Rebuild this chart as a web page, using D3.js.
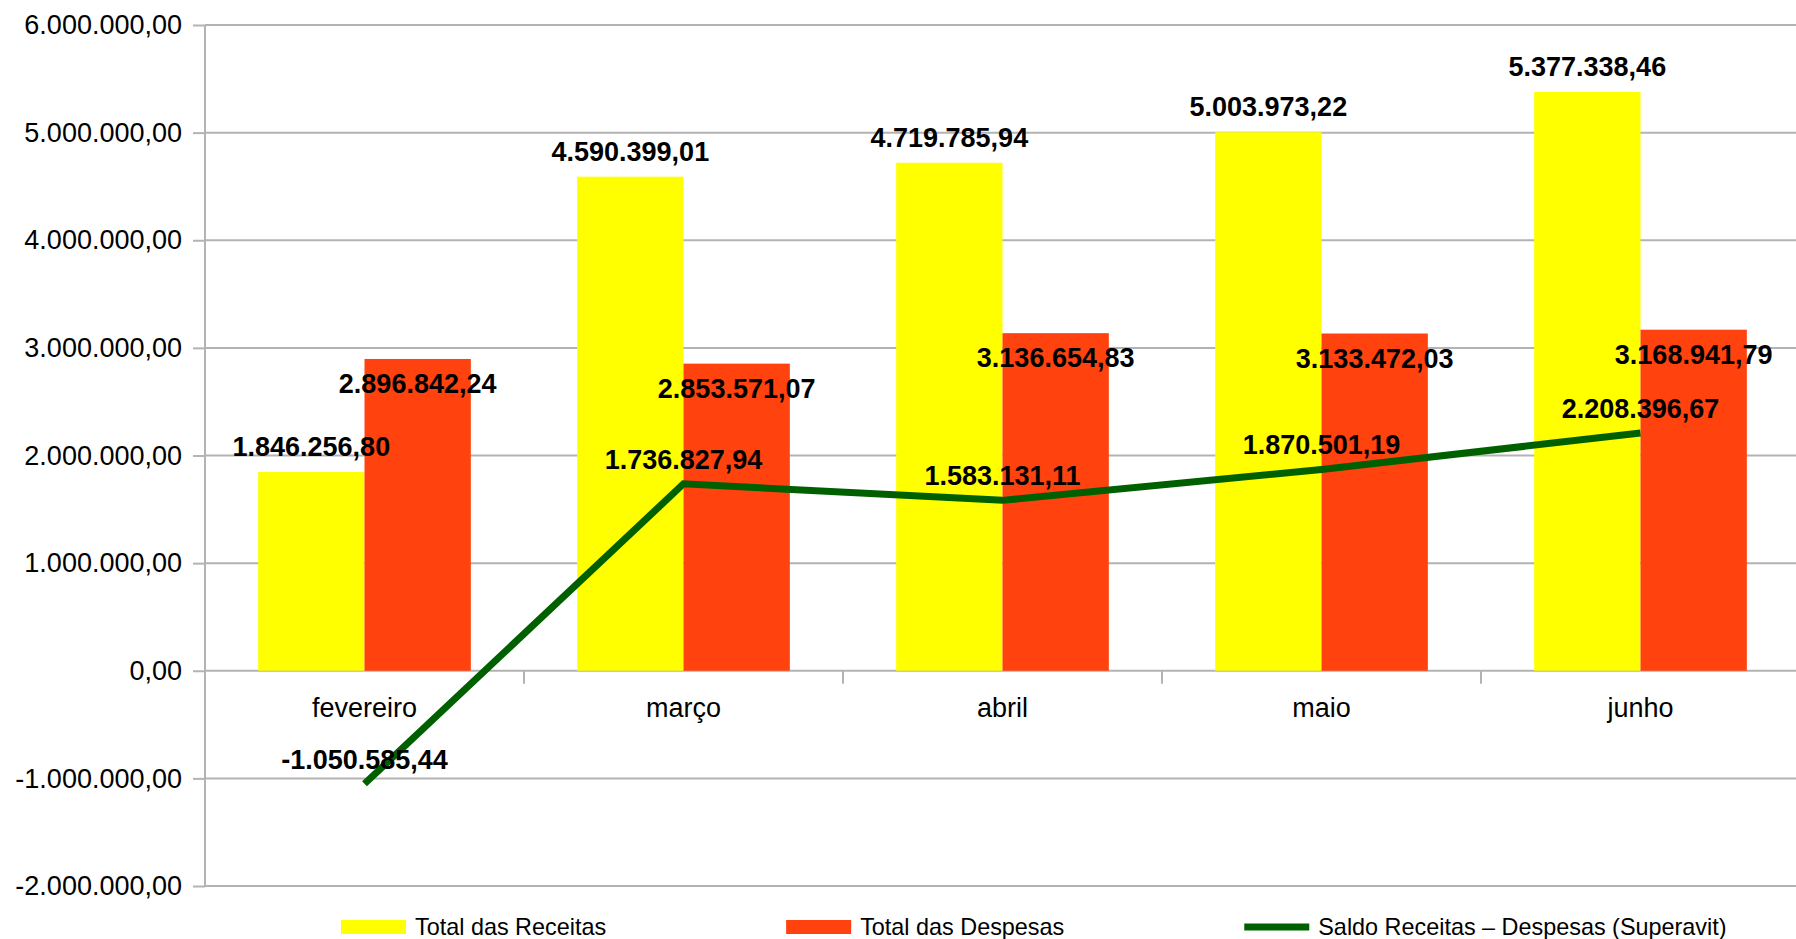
<!DOCTYPE html>
<html>
<head>
<meta charset="utf-8">
<script src="https://cdn.jsdelivr.net/npm/d3@7"></script>
<style>
  body { margin: 0; background: #fff; }
  text { font-family: "Liberation Sans", Arial, sans-serif; }
</style>
</head>
<body>
<div id="wrapper"></div>
<script>
// data
const months = ["fevereiro", "março", "abril", "maio", "junho"]
const receitas = [1846256.80, 4590399.01, 4719785.94, 5003973.22, 5377338.46]
const despesas = [2896842.24, 2853571.07, 3136654.83, 3133472.03, 3168941.79]
const saldo = [-1050585.44, 1736827.94, 1583131.11, 1870501.19, 2208396.67]
const yTicks = [-2000000, -1000000, 0, 1000000, 2000000, 3000000, 4000000, 5000000, 6000000]
const seriesNames = ["Total das Receitas", "Total das Despesas", "Saldo Receitas – Despesas (Superavit)"]

const colors = { rec: "#ffff00", desp: "#ff420e", saldo: "#006000" }

const ptBR = d3.formatLocale({
  decimal: ",", thousands: ".", grouping: [3], currency: ["R$", ""], minus: "-"
})
const fmt = ptBR.format(",.2f")

const rows = months.map((m, i) => ({
  month: m, rec: receitas[i], desp: despesas[i], saldo: saldo[i]
}))

// dimensions
const width = 1796
const height = 939
const plot = { left: 205, right: 1800, top: 25, bottom: 886 }

const svg = d3.select("#wrapper").append("svg")
    .attr("width", width)
    .attr("height", height)

// scales
const y = d3.scaleLinear()
  .domain([-2000000, 6000000])
  .range([plot.bottom, plot.top])

const x0 = d3.scaleBand()
  .domain(months)
  .range([plot.left, plot.right])

const x1 = d3.scaleBand()
  .domain(["rec", "desp"])
  .range([0, x0.bandwidth()])
  .paddingOuter(0.5)

// gridlines
svg.append("g")
  .selectAll("line")
  .data(yTicks)
  .join("line")
    .attr("x1", plot.left)
    .attr("x2", width)
    .attr("y1", d => y(d))
    .attr("y2", d => y(d))
    .attr("stroke", "#b3b3b3")
    .attr("stroke-width", 2)

// y axis
const yAxis = svg.append("g")
    .attr("transform", `translate(${plot.left},0)`)
    .call(d3.axisLeft(y).tickValues(yTicks).tickFormat(fmt).tickSize(12).tickPadding(11))
yAxis.select(".domain").attr("stroke", "#b3b3b3").attr("stroke-width", 2)
  .attr("d", `M0,${plot.top}V${plot.bottom}`)
yAxis.selectAll(".tick line").attr("stroke", "#b3b3b3").attr("stroke-width", 2)
yAxis.selectAll(".tick text")
    .attr("fill", "#000")
    .style("font-size", "27px")
    .style("font-family", "'Liberation Sans', Arial, sans-serif")

// category boundary ticks
svg.append("g")
  .selectAll("line")
  .data(months.slice(1))
  .join("line")
    .attr("x1", d => x0(d))
    .attr("x2", d => x0(d))
    .attr("y1", y(0))
    .attr("y2", y(0) + 13)
    .attr("stroke", "#b3b3b3")
    .attr("stroke-width", 2)

// bars
const groups = svg.append("g")
  .selectAll("g")
  .data(rows)
  .join("g")
    .attr("transform", d => `translate(${x0(d.month)},0)`)

groups.selectAll("rect")
  .data(d => ["rec", "desp"].map(k => ({ key: k, value: d[k] })))
  .join("rect")
    .attr("x", d => x1(d.key))
    .attr("width", x1.bandwidth())
    .attr("y", d => y(d.value))
    .attr("height", d => y(0) - y(d.value))
    .attr("fill", d => colors[d.key])

// x axis labels
const xAxis = svg.append("g")
    .attr("transform", `translate(0,${y(0)})`)
    .call(d3.axisBottom(x0).tickSize(0).tickPadding(27))
xAxis.select(".domain").remove()
xAxis.selectAll(".tick text")
    .attr("fill", "#000")
    .style("font-size", "27px")
    .style("font-family", "'Liberation Sans', Arial, sans-serif")

// saldo line
const cx = d => x0(d.month) + x0.bandwidth() / 2
const line = d3.line()
  .x(cx)
  .y(d => y(d.saldo))

svg.append("path")
    .datum(rows)
    .attr("d", line)
    .attr("fill", "none")
    .attr("stroke", colors.saldo)
    .attr("stroke-width", 7)

// data labels
const labels = svg.append("g")
    .attr("font-weight", "bold")
    .attr("font-size", 27)
    .attr("text-anchor", "middle")
    .attr("fill", "#000")

labels.selectAll(".lab-rec")
  .data(rows)
  .join("text")
    .attr("class", "lab-rec")
    .attr("x", d => x0(d.month) + x1("rec") + x1.bandwidth() / 2)
    .attr("y", d => y(d.rec) - 16)
    .text(d => fmt(d.rec))

labels.selectAll(".lab-desp")
  .data(rows)
  .join("text")
    .attr("class", "lab-desp")
    .attr("x", d => x0(d.month) + x1("desp") + x1.bandwidth() / 2)
    .attr("y", d => y(d.desp) + 34)
    .text(d => fmt(d.desp))

labels.selectAll(".lab-saldo")
  .data(rows)
  .join("text")
    .attr("class", "lab-saldo")
    .attr("x", cx)
    .attr("y", d => y(d.saldo) - 15)
    .text(d => fmt(d.saldo))

// legend
const legend = svg.append("g")
    .attr("transform", "translate(341,927)")
let lx = 0
seriesNames.forEach((name, i) => {
  const item = legend.append("g").attr("transform", `translate(${lx},0)`)
  if (i < 2) {
    item.append("rect")
        .attr("x", 0).attr("y", -7)
        .attr("width", 65).attr("height", 14)
        .attr("fill", i === 0 ? colors.rec : colors.desp)
  } else {
    item.append("line")
        .attr("x1", 0).attr("x2", 65)
        .attr("y1", 0).attr("y2", 0)
        .attr("stroke", colors.saldo)
        .attr("stroke-width", 7)
  }
  const t = item.append("text")
      .attr("x", 74)
      .attr("y", 8)
      .attr("font-size", 23.4)
      .attr("fill", "#000")
      .text(name)
  lx += 74 + t.node().getComputedTextLength() + 180
})
</script>
</body>
</html>
